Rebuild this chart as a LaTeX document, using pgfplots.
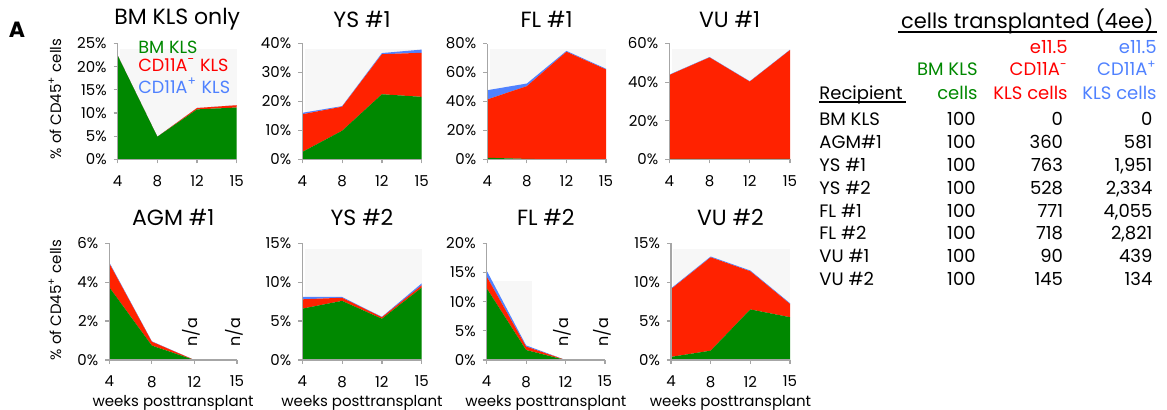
\documentclass[border=0pt]{standalone}
\usepackage{fontspec}
\setmainfont{Poppins}
\usepackage{pgfplots}
\pgfplotsset{compat=1.18}

\definecolor{cgreen}{RGB}{0,136,0}
\definecolor{cred}{RGB}{255,34,0}
\definecolor{cblue}{RGB}{80,130,255}
\definecolor{tgreen}{RGB}{0,136,0}
\definecolor{tred}{RGB}{255,0,0}
\definecolor{tblue}{RGB}{79,129,255}
\definecolor{axgray}{RGB}{166,166,166}

\pgfplotsset{
  panel/.style={
    scale only axis,
    anchor=south west,
    axis lines=left,
    axis line style={-, draw=axgray, line width=0.6pt},
    tick style={draw=axgray, line width=0.6pt},
    tick align=outside,
    major tick length=2pt,
    xmin=0, xmax=3, ymin=0,
    xtick={0,1,2,3},
    xticklabels={4,8,12,15},
    stack plots=y,
    axis on top,
    clip=false,
    ticklabel style={font=\fontsize{7.5}{9}\selectfont},
    xticklabel style={yshift=-2.5pt},
    /pgf/number format/assume math mode=true,
    yticklabel={\pgfmathprintnumber{\tick}\%},
    xlabel style={font=\fontsize{7.5}{9}\selectfont, at={(0.5,0)}, anchor=center, yshift=-21.5pt},
  },
  g/.style={fill=cgreen, draw=none},
  r/.style={fill=cred, draw=none},
  b/.style={fill=cblue, draw=none},
}
\newcommand{\na}[1]{\node[rotate=90, anchor=west, inner sep=0pt, font=\fontsize{8}{9}\selectfont]
  at ([xshift=-1.5pt, yshift=6.5pt]axis cs:#1,0) {n/a};}

\begin{document}
\begin{tikzpicture}
\path[use as bounding box] (0,0) rectangle (583.5pt,-205pt);

% light plot-area backgrounds
\begin{scope}[fill=black!3]
\fill (60.04pt,-79.75pt) rectangle (118.35pt,-24.65pt);
\fill (152.34pt,-79.75pt) rectangle (210.85pt,-24.65pt);
\fill (244.84pt,-79.75pt) rectangle (303pt,-24.65pt);
\fill (335.86pt,-79.75pt) rectangle (395pt,-24.65pt);
\fill (152.34pt,-180pt) rectangle (210.85pt,-124.57pt);
\fill (244.53pt,-180pt) rectangle (265.83pt,-140.3pt);
\fill (336.69pt,-180pt) rectangle (395pt,-124.57pt);
\end{scope}

% ---- top row ----
\begin{axis}[panel, at={(58.85pt,-79.75pt)}, width=59.5pt, height=58pt,
  ymax=25, ytick={0,5,...,25}]
\addplot[g] coordinates {(0,22.4) (1,4.9) (2,10.8) (3,11.2)} \closedcycle;
\addplot[r] coordinates {(0,0) (1,0) (2,0.3) (3,0.5)} \closedcycle;
\addplot[b] coordinates {(0,0) (1,0) (2,0) (3,0)} \closedcycle;
\end{axis}

\begin{axis}[panel, at={(151.15pt,-79.75pt)}, width=59.7pt, height=58pt,
  ymax=40, ytick={0,10,...,40}]
\addplot[g] coordinates {(0,2.6) (1,9.9) (2,22.5) (3,21.6)} \closedcycle;
\addplot[r] coordinates {(0,13.0) (1,8.3) (2,13.8) (3,15.2)} \closedcycle;
\addplot[b] coordinates {(0,0.5) (1,0.2) (2,0.4) (3,1.1)} \closedcycle;
\end{axis}

\begin{axis}[panel, at={(243.65pt,-79.75pt)}, width=59.35pt, height=58pt,
  ymax=80, ytick={0,20,...,80}]
\addplot[g] coordinates {(0,1.2) (1,0.4) (2,0.1) (3,0)} \closedcycle;
\addplot[r] coordinates {(0,40.2) (1,50.2) (2,74.2) (3,62.1)} \closedcycle;
\addplot[b] coordinates {(0,6.4) (1,1.8) (2,0.6) (3,0.5)} \closedcycle;
\end{axis}

\begin{axis}[panel, at={(334.65pt,-79.75pt)}, width=60.35pt, height=58pt,
  ymax=60, ytick={0,20,...,60}]
\addplot[g] coordinates {(0,0.3) (1,0.3) (2,0.3) (3,0.3)} \closedcycle;
\addplot[r] coordinates {(0,43.4) (1,52.5) (2,40.0) (3,56.3)} \closedcycle;
\addplot[b] coordinates {(0,0.2) (1,0.2) (2,0.2) (3,0.2)} \closedcycle;
\end{axis}

% ---- bottom row ----
\begin{axis}[panel, at={(54.65pt,-180pt)}, width=63.85pt, height=58.35pt,
  ymax=6, ytick={0,2,4,6}, xlabel={weeks posttransplant}]
\addplot[g] coordinates {(0,3.74) (1,0.74) (2,0)} \closedcycle;
\addplot[r] coordinates {(0,1.23) (1,0.2) (2,0)} \closedcycle;
\addplot[b] coordinates {(0,0.05) (1,0.02) (2,0)} \closedcycle;
\na{2}\na{3}
\end{axis}

\begin{axis}[panel, at={(151.15pt,-180pt)}, width=59.7pt, height=58.35pt,
  ymax=15, ytick={0,5,10,15}, xlabel={weeks posttransplant}]
\addplot[g] coordinates {(0,6.6) (1,7.6) (2,5.3) (3,9.3)} \closedcycle;
\addplot[r] coordinates {(0,1.2) (1,0.4) (2,0.2) (3,0.3)} \closedcycle;
\addplot[b] coordinates {(0,0.3) (1,0.1) (2,0.05) (3,0.25)} \closedcycle;
\end{axis}

\begin{axis}[panel, at={(243.35pt,-180pt)}, width=59.15pt, height=58.35pt,
  ymax=20, ytick={0,5,...,20}, xlabel={weeks posttransplant}]
\addplot[g] coordinates {(0,12.3) (1,1.7) (2,0)} \closedcycle;
\addplot[r] coordinates {(0,2.0) (1,0.6) (2,0)} \closedcycle;
\addplot[b] coordinates {(0,1.0) (1,0.2) (2,0)} \closedcycle;
\na{2}\na{3}
\end{axis}

\begin{axis}[panel, at={(335.5pt,-180pt)}, width=59.5pt, height=58.35pt,
  ymax=15, ytick={0,5,10,15}, xlabel={weeks posttransplant}]
\addplot[g] coordinates {(0,0.4) (1,1.2) (2,6.5) (3,5.5)} \closedcycle;
\addplot[r] coordinates {(0,8.7) (1,12.0) (2,4.9) (3,1.7)} \closedcycle;
\addplot[b] coordinates {(0,0.1) (1,0.1) (2,0.1) (3,0.1)} \closedcycle;
\end{axis}

% ---- titles and labels ----
\begin{scope}[every node/.style={font=\fontsize{11}{13}\selectfont}]
\node at (88.6pt,-9.5pt) {BM KLS only};
\node at (181pt,-9.5pt) {YS \#1};
\node at (273.3pt,-9.5pt) {FL \#1};
\node at (364.8pt,-9.5pt) {VU \#1};
\node at (86.6pt,-108.75pt) {AGM \#1};
\node at (181pt,-108.75pt) {YS \#2};
\node at (272.9pt,-108.75pt) {FL \#2};
\node at (365.2pt,-108.75pt) {VU \#2};
\end{scope}

\node[font=\bfseries\fontsize{11}{13}\selectfont] at (8.5pt,-15pt) {A};
\node[rotate=90, font=\fontsize{7.5}{9}\selectfont] at (27.5pt,-49.5pt) {\% of CD45\textsuperscript{+} cells};
\node[rotate=90, font=\fontsize{7.5}{9}\selectfont] at (27.5pt,-150pt) {\% of CD45\textsuperscript{+} cells};

\begin{scope}[every node/.style={anchor=west, inner sep=0pt, font=\fontsize{8.8}{10}\selectfont}]
\node[text=tgreen] at (69pt,-23.5pt) {BM KLS};
\node[text=tred] at (69pt,-32.5pt) {CD11A\textsuperscript{-} KLS};
\node[text=tblue] at (69pt,-43pt) {CD11A\textsuperscript{+} KLS};
\end{scope}

% ---- table ----
\node[anchor=base, font=\fontsize{10.5}{12}\selectfont] at (513.7pt,-14.2pt) {cells transplanted (4ee)};
\draw[line width=0.9pt] (449pt,-16.2pt) -- (578.5pt,-16.2pt);
\draw[line width=0.9pt] (409.5pt,-50.85pt) -- (453pt,-50.85pt);

\begin{scope}[every node/.style={anchor=base east, inner sep=0pt, font=\fontsize{9}{10}\selectfont}]
\node[text=tred]  at (534pt,-27pt) {e11.5};
\node[text=tblue] at (578.5pt,-27pt) {e11.5};
\node[text=tgreen] at (489pt,-38pt) {BM KLS};
\node[text=tred]  at (534pt,-38pt) {CD11A\textsuperscript{-}};
\node[text=tblue] at (578.5pt,-38pt) {CD11A\textsuperscript{+}};
\node[text=tgreen] at (489pt,-50pt) {cells};
\node[text=tred]  at (534pt,-50pt) {KLS cells};
\node[text=tblue] at (578.5pt,-50pt) {KLS cells};
\node[anchor=base west] at (409.5pt,-50pt) {Recipient};
\foreach \lab/\a/\b/\c [count=\i from 0] in {BM KLS/100/0/0, AGM\#1/100/360/581,
    YS \#1/100/763/{1,951}, YS \#2/100/528/{2,334}, FL \#1/100/771/{4,055},
    FL \#2/100/718/{2,821}, VU \#1/100/90/439, VU \#2/100/145/134}{
  \pgfmathsetmacro{\yy}{-62.85-11.43*\i}
  \node[anchor=base west] at (409.5pt,\yy pt) {\lab};
  \node at (488pt,\yy pt) {\a};
  \node at (531.7pt,\yy pt) {\b};
  \node at (576.4pt,\yy pt) {\c};
}
\end{scope}
\end{tikzpicture}
\end{document}
